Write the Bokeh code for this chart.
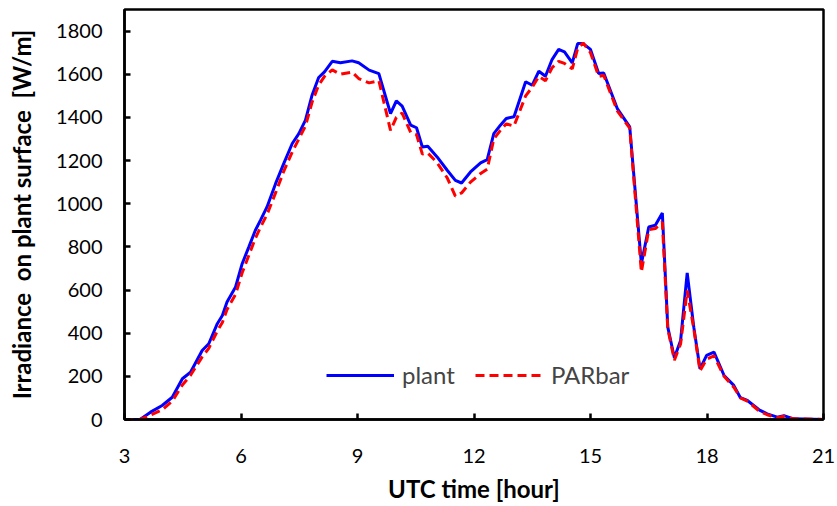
from bokeh.plotting import figure
from bokeh.models import Range1d, FixedTicker, Legend, LegendItem
from bokeh.embed import file_html
from bokeh.resources import INLINE

hours = [3.0, 3.4, 3.67, 3.97, 4.23, 4.49, 4.7, 5.0, 5.17, 5.39, 5.52, 5.64, 5.86, 6.03, 6.2,
         6.37, 6.5, 6.67, 6.89, 7.1, 7.32, 7.49, 7.66, 7.83, 8.0, 8.15, 8.35, 8.56, 8.86, 9.03,
         9.3, 9.55, 9.85, 10.0, 10.15, 10.37, 10.52, 10.67, 10.81, 11.05, 11.31, 11.52, 11.68,
         11.91, 12.17, 12.34, 12.51, 12.68, 12.83, 13.03, 13.33, 13.5, 13.67, 13.84, 14.01,
         14.18, 14.33, 14.53, 14.67, 14.81, 15.0, 15.21, 15.34, 15.69, 16.01, 16.31, 16.5,
         16.67, 16.85, 16.99, 17.16, 17.32, 17.49, 17.66, 17.82, 17.99, 18.18, 18.44, 18.69,
         18.86, 19.04, 19.34, 19.55, 19.81, 19.98, 20.23, 21.0]

plant = [0, 0, 34, 65, 103, 189, 219, 320, 351, 444, 482, 544, 614, 722, 799,
         877, 923, 985, 1093, 1186, 1279, 1325, 1387, 1503, 1585, 1611, 1660, 1653, 1662, 1653,
         1619, 1603, 1418, 1476, 1452, 1364, 1352, 1263, 1266, 1217, 1155, 1108, 1096,
         1147, 1189, 1204, 1325, 1364, 1395, 1403, 1565, 1549, 1614, 1591, 1668,
         1715, 1704, 1653, 1742, 1742, 1715, 1603, 1606, 1441, 1356, 722, 892,
         900, 957, 428, 286, 366, 679, 428, 235, 297, 312, 204, 158,
         101, 88, 45, 26, 11, 18, 3, 0]

parbar = [0, 0, 20, 45, 85, 160, 205, 290, 330, 410, 450, 510, 580, 680, 760,
          840, 890, 950, 1050, 1150, 1240, 1300, 1360, 1470, 1550, 1590, 1620, 1600, 1610, 1580,
          1560, 1570, 1340, 1400, 1420, 1330, 1320, 1230, 1235, 1190, 1120, 1035, 1050,
          1100, 1140, 1160, 1300, 1340, 1370, 1360, 1500, 1540, 1590, 1570, 1630,
          1660, 1650, 1625, 1720, 1745, 1700, 1590, 1595, 1430, 1350, 683, 880,
          885, 915, 420, 275, 350, 598, 420, 225, 280, 295, 200, 150,
          100, 85, 40, 22, 8, 15, 3, 0]

x_ticks = [3, 6, 9, 12, 15, 18, 21]
y_ticks = [0, 200, 400, 600, 800, 1000, 1200, 1400, 1600, 1800]

FONT = "Lato"

p = figure(width=837, height=506, output_backend="svg", toolbar_location=None,
           x_range=Range1d(3, 21), y_range=Range1d(0, 1900),
           min_border_left=124, min_border_right=14, min_border_top=9, min_border_bottom=87)

p.xgrid.visible = False
p.ygrid.visible = False
p.outline_line_color = "black"
p.outline_line_width = 2.5
p.outline_line_alpha = 1

r1 = p.line(hours, plant, line_color="#0000ff", line_width=3)
r2 = p.line(hours, parbar, line_color="#ff0000", line_width=3, line_dash="9 5")

for ax, ticks in ((p.xaxis[0], x_ticks), (p.yaxis[0], y_ticks)):
    ax.ticker = FixedTicker(ticks=ticks)
    ax.axis_line_color = "black"
    ax.axis_line_width = 2.5
    ax.major_tick_line_color = "black"
    ax.major_tick_line_width = 2.5
    ax.major_tick_in = 6
    ax.major_tick_out = 0
    ax.minor_tick_line_color = None
    ax.major_label_text_font = FONT
    ax.major_label_text_font_size = "20px"
    ax.major_label_text_color = "black"
    ax.axis_label_text_font = FONT
    ax.axis_label_text_font_size = "24px"
    ax.axis_label_text_font_style = "bold"
    ax.axis_label_text_color = "black"

p.xaxis[0].axis_label = "UTC time [hour]"
p.xaxis[0].major_label_standoff = 29
p.xaxis[0].axis_label_standoff = 8
p.yaxis[0].axis_label = "Irradiance \u00a0on plant surface \u00a0[W/m]"
p.yaxis[0].major_label_standoff = 22
p.yaxis[0].axis_label_standoff = 17

legend = Legend(items=[LegendItem(label="plant", renderers=[r1]),
                       LegendItem(label="PARbar", renderers=[r2])],
                orientation="horizontal", location=(202, 30),
                label_text_font=FONT, label_text_font_size="24px",
                glyph_width=68, spacing=20, label_standoff=8,
                border_line_color=None, background_fill_alpha=0)
p.add_layout(legend)

open("out.html", "w").write(file_html(p, INLINE))
